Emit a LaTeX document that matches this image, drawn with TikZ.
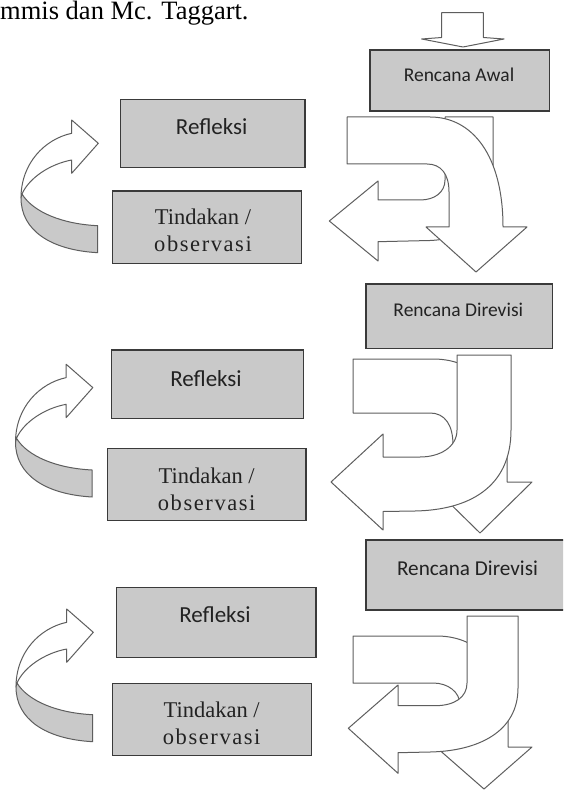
\documentclass[tikz,border=0pt]{standalone}
\usepackage{fontspec}
\setmainfont{Liberation Serif}
\newfontfamily\calfont{Carlito}
\definecolor{boxfill}{HTML}{C9C9C9}
\definecolor{boxline}{HTML}{3A3A3A}
\definecolor{arrline}{HTML}{5E5E5E}
\definecolor{txt}{HTML}{222222}
\begin{document}
\begin{tikzpicture}[x=1pt,y=-1pt,
  box/.style={draw=boxline,fill=boxfill,line width=1.5pt,rectangle,inner sep=0pt,outer sep=0pt},
  blk/.style={draw=arrline,fill=white,line width=1pt,line join=round},
  band/.style={draw=arrline,fill=boxfill,line width=1pt,line join=round},
  caltext/.style={font=\calfont\fontsize{#1}{#1}\selectfont,text=txt,inner sep=0pt},
  sertext/.style={font=\fontsize{22.5}{27}\selectfont,text=txt,inner sep=0pt,align=center},
  cycarrow/.pic={
    \draw[blk] (21,198) .. controls (21,163) and (45,139) .. (71.7,133.3) -- (71.7,120) -- (98.3,143.3) -- (71.7,173.3) -- (71.7,160) .. controls (50,164) and (29,178) .. (22,194) -- cycle;
    \draw[band] (22,194) .. controls (33,212) and (62,224) .. (97.7,225.7) -- (97.7,252.7) .. controls (50,250) and (21,230) .. (21,198) -- cycle;
  }
]
\useasboundingbox (0,0) rectangle (563,791);
\clip (0,0) rectangle (563,791);
\fill[white] (0,0) rectangle (563,791);

\node[anchor=base west,inner sep=0pt,font=\fontsize{26.5}{30}\selectfont] (head) at (0,19.5) {mmis dan Mc. Taggart.};

% top entry arrow
\draw[blk] (441.7,12.7) -- (483.3,12.7) -- (483.3,37.5) -- (504,39) -- (463,47) -- (421.7,39) -- (441.7,37.5) -- cycle;

% plan boxes
\node[box,minimum width=179.3pt,minimum height=61pt] (p1) at (459.65,80.5) {};
\node[caltext=19.5] (p1t) at (459,75) {Rencana Awal};
\node[box,minimum width=186.3pt,minimum height=64.5pt] (p2) at (459.15,316.25) {};
\node[caltext=19.5] (p2t) at (458.3,310) {Rencana Direvisi};
\node[box,minimum width=203pt,minimum height=70pt] (p3) at (467.5,575) {};
\node[caltext=21.2] (p3t) at (467.5,568.3) {Rencana Direvisi};

% reflection boxes
\node[box,minimum width=184.3pt,minimum height=68.4pt] (r1) at (212.85,133.5) {};
\node[caltext=23] (r1t) at (211.7,126.7) {Refleksi};
\node[box,minimum width=191.6pt,minimum height=68.3pt] (r2) at (207.5,384.15) {};
\node[caltext=23] (r2t) at (206,378.3) {Refleksi};
\node[box,minimum width=199.3pt,minimum height=70.4pt] (r3) at (216.35,622.5) {};
\node[caltext=23] (r3t) at (215,615) {Refleksi};

% action boxes
\node[box,minimum width=189.4pt,minimum height=72.3pt] (t1) at (207,227.15) {};
\node[sertext] (t1t) at (203,230.8) {Tindakan /\\{\addfontfeature{LetterSpace=7}observasi}};
\node[box,minimum width=198.7pt,minimum height=72.4pt] (t2) at (206.65,484.5) {};
\node[sertext] (t2t) at (206.7,489.2) {Tindakan /\\{\addfontfeature{LetterSpace=7}observasi}};
\node[box,minimum width=199.4pt,minimum height=72.4pt] (t3) at (212,719.5) {};
\node[sertext] (t3t) at (211.7,723.3) {Tindakan /\\{\addfontfeature{LetterSpace=7}observasi}};

% left cycle arrows
\pic at (0,0) {cycarrow};
\pic at (-5.5,244.3) {cycarrow};
\pic at (-5,489) {cycarrow};

% block 1 arrows (right-down on top)
\draw[blk] (445,117) -- (493,117) -- (493,172) .. controls (493,215) and (470,239) .. (430,240.5) -- (378,241.7) -- (378,261) -- (329.3,221) -- (378,181) -- (378,200) -- (420,200) .. controls (435,200) and (445,192) .. (445,180) -- cycle;
\draw[blk] (347,117) -- (430,117) .. controls (472,117) and (503,155) .. (503,227) -- (527,227) -- (476,272) -- (426,227) -- (449,227) -- (449,192) .. controls (449,174) and (441,164) .. (427,164) -- (347,164) -- cycle;

% block 2 arrows (down-left on top)
\draw[blk] (353,359) -- (433,359) .. controls (480,359) and (507,395) .. (507,450) -- (507,482) -- (532,482) -- (480,533) -- (428,482) -- (453,482) -- (453,445) .. controls (453,425) and (445,413) .. (430,413) -- (353,413) -- cycle;
\draw[blk] (457,355) -- (511,355) -- (511,430) .. controls (511,488) and (468,510) .. (415,511) -- (383,511.5) -- (383,530) -- (331,482) -- (383,434) -- (383,457) -- (420,457) .. controls (440,457) and (457,447) .. (457,430) -- cycle;

% block 3 arrows (down-left on top)
\draw[blk] (353,636) -- (437,636) .. controls (480,636) and (508,670) .. (508,712) -- (508,747) -- (532,747) -- (484,789) -- (436,747) -- (460,747) -- (460,705) .. controls (460,692) and (448,683) .. (433,683) -- (353,683) -- cycle;
\draw[blk] (467,616) -- (518,616) -- (518,688) .. controls (518,732) and (478,751) .. (430,752) -- (398,752.7) -- (398,773.3) -- (348.3,728.3) -- (398,685) -- (398,705.7) -- (435,705.7) .. controls (455,705.7) and (467,697) .. (467,683) -- cycle;
\end{tikzpicture}
\end{document}
